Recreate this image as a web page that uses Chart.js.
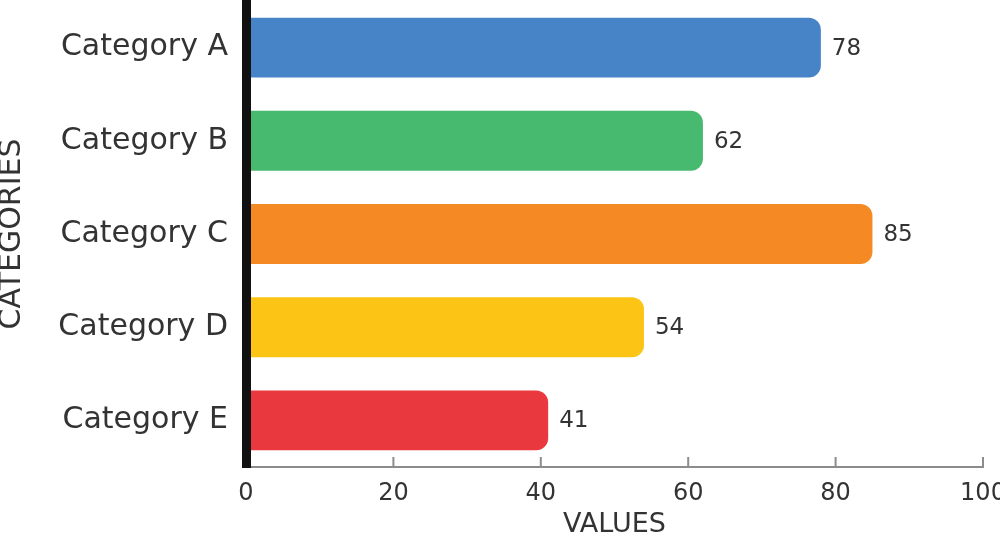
<!DOCTYPE html>
<html>
<head>
<meta charset="utf-8">
<script src="https://cdn.jsdelivr.net/npm/chart.js@4"></script>
<style>
  html, body { margin: 0; padding: 0; background: #fff; }
  #wrap { width: 1000px; height: 536px; position: relative; }
</style>
</head>
<body>
<div id="wrap"><canvas id="chart"></canvas></div>
<script>
const categories = ["Category A", "Category B", "Category C", "Category D", "Category E"];
const values = [78, 62, 85, 54, 41];
const barColors = ["#4683C7", "#47BA6F", "#F58A24", "#FCC516", "#E9393F"];
const xTicks = [0, 20, 40, 60, 80, 100];

const textColor = "#333333";
const fontFamily = "'DejaVu Sans', sans-serif";

// value labels at the end of each bar
const valueLabels = {
    id: "valueLabels",
    afterDatasetsDraw(chart) {
        const ctx = chart.ctx;
        const meta = chart.getDatasetMeta(0);
        ctx.save();
        ctx.font = "23px " + fontFamily;
        ctx.fillStyle = textColor;
        ctx.textAlign = "left";
        ctx.textBaseline = "middle";
        meta.data.forEach(function (bar, i) {
            ctx.fillText(String(values[i]), bar.x + 11, bar.y + 1);
        });
        ctx.restore();
    }
};

// small tick marks pointing up from the x axis
const upTicks = {
    id: "upTicks",
    afterDatasetsDraw(chart) {
        const ctx = chart.ctx;
        const x = chart.scales.x;
        const bottom = chart.chartArea.bottom;
        ctx.save();
        ctx.strokeStyle = "#8c8c8c";
        ctx.lineWidth = 2;
        xTicks.forEach(function (v) {
            const px = x.getPixelForValue(v);
            ctx.beginPath();
            ctx.moveTo(px, bottom);
            ctx.lineTo(px, bottom - 10);
            ctx.stroke();
        });
        ctx.restore();
    }
};

new Chart(document.getElementById("chart"), {
    type: "bar",
    data: {
        labels: categories,
        datasets: [{
            data: values,
            backgroundColor: barColors,
            borderRadius: 12,
            borderSkipped: "start",
            barPercentage: 0.643,
            categoryPercentage: 1
        }]
    },
    options: {
        indexAxis: "y",
        responsive: true,
        maintainAspectRatio: false,
        animation: false,
        layout: { padding: { top: 1, right: 17, left: 0, bottom: 0 } },
        plugins: {
            legend: { display: false },
            tooltip: { enabled: false }
        },
        scales: {
            x: {
                min: 0,
                max: 100,
                afterBuildTicks: function (scale) {
                    scale.ticks = xTicks.map(v => ({ value: v }));
                },
                afterFit: function (scale) {
                    scale.height = 69;
                    scale.paddingLeft = 0;
                    scale.paddingRight = 0;
                },
                grid: { display: false, drawTicks: false },
                border: { display: true, color: "#8c8c8c", width: 2 },
                ticks: {
                    color: textColor,
                    font: { family: fontFamily, size: 24 },
                    padding: 12,
                    maxRotation: 0
                },
                title: {
                    display: true,
                    text: "VALUES",
                    color: textColor,
                    font: { family: fontFamily, size: 27, lineHeight: 0.8 },
                    padding: { top: 0, bottom: 0 }
                }
            },
            y: {
                afterFit: function (scale) {
                    scale.width = 246;
                    scale.paddingTop = 0;
                    scale.paddingBottom = 0;
                },
                grid: { display: false, drawTicks: false },
                border: { display: true, color: "#111111", width: 9, z: 1 },
                ticks: {
                    color: textColor,
                    font: { family: fontFamily, size: 30 },
                    padding: 18
                },
                title: {
                    display: true,
                    text: "CATEGORIES",
                    color: textColor,
                    font: { family: fontFamily, size: 30, lineHeight: 0.8 },
                    padding: { top: 0, bottom: 0 }
                }
            }
        }
    },
    plugins: [upTicks, valueLabels]
});
</script>
</body>
</html>
